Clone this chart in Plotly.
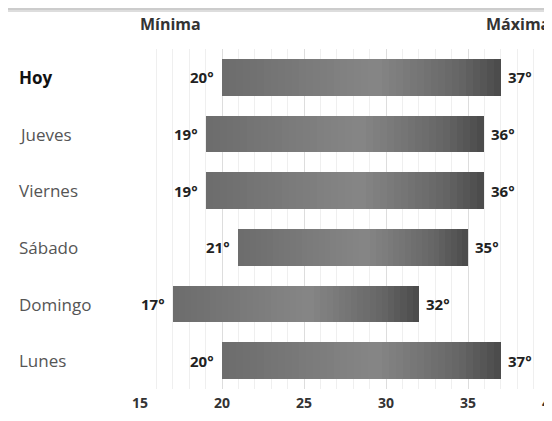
import plotly.graph_objects as go

days = ["Hoy", "Jueves", "Viernes", "Sábado", "Domingo", "Lunes"]
t_min = [20, 19, 19, 21, 17, 20]
t_max = [37, 36, 36, 35, 32, 37]
tick_vals = [15, 20, 25, 30, 35, 40]
header_min = "Mínima"
header_max = "Máxima"

# page body has an 8px margin, so the figure is offset by 8px
OFF = 8
W, H = 552 - OFF, 421 - OFF
ML, MR, MT, MB = 140 - OFF, 2, 49 - OFF, 32
PW = W - ML - MR
PH = H - MT - MB

FONT = "Open Sans"

def fy(page_y):
    """paper y coordinate for a page pixel row"""
    return 1 + (MT - (page_y - OFF)) / PH

def grad_color(t):
    # dark - light - dark gradient across the bar
    stops = [(0.0, 0x6c), (0.55, 0x86), (0.85, 0x66), (1.0, 0x4a)]
    for (a, ca), (b, cb) in zip(stops[:-1], stops[1:]):
        if a <= t <= b:
            f = (t - a) / (b - a) if b > a else 0
            c = int(round(ca + (cb - ca) * f))
            return f"rgb({c},{c},{c})"
    c = stops[-1][1]
    return f"rgb({c},{c},{c})"

N = 40
fig = go.Figure()
for i in range(N):
    bases = [lo + (hi - lo) * i / N for lo, hi in zip(t_min, t_max)]
    widths = [(hi - lo) / N for lo, hi in zip(t_min, t_max)]
    fig.add_trace(go.Bar(
        y=days, x=widths, base=bases, orientation="h",
        marker=dict(color=grad_color((i + 0.5) / N), line=dict(width=0)),
        width=0.65, showlegend=False, hoverinfo="skip",
    ))

annotations = []
for d, lo, hi in zip(days, t_min, t_max):
    annotations.append(dict(x=lo, y=d, xref="x", yref="y", text=f"{lo}°",
                            xanchor="right", yanchor="middle", xshift=-6, showarrow=False,
                            font=dict(family=FONT, size=15, color="#222", weight="bold")))
    annotations.append(dict(x=hi, y=d, xref="x", yref="y", text=f"{hi}°",
                            xanchor="left", yanchor="middle", xshift=5, showarrow=False,
                            font=dict(family=FONT, size=15, color="#222", weight="bold")))
    annotations.append(dict(x=(17 - OFF - ML) / PW, y=d, xref="paper", yref="y", text=d,
                            xanchor="left", yanchor="middle", showarrow=False,
                            font=dict(family=FONT, size=17,
                                      color="#111" if d == "Hoy" else "#555",
                                      weight="bold" if d == "Hoy" else "normal")))

annotations.append(dict(x=tick_vals[0], y=fy(24), xref="x", yref="paper",
                        text=header_min, xanchor="left", yanchor="middle", xshift=-2,
                        showarrow=False,
                        font=dict(family=FONT, size=16, color="#333", weight="bold")))
annotations.append(dict(x=1.0, y=fy(24), xref="paper", yref="paper",
                        text=header_max, xanchor="right", yanchor="middle", xshift=2,
                        showarrow=False,
                        font=dict(family=FONT, size=16, color="#333", weight="bold")))

shapes = [
    dict(type="line", xref="paper", yref="paper", x0=-ML / PW, x1=1 + MR / PW,
         y0=fy(9), y1=fy(9), line=dict(color="#999", width=1)),
    dict(type="line", xref="paper", yref="paper", x0=-ML / PW, x1=1 + MR / PW,
         y0=fy(11), y1=fy(11), line=dict(color="#bbb", width=1)),
]

fig.update_layout(
    width=W, height=H, margin=dict(l=ML, r=MR, t=MT, b=MB, autoexpand=False),
    paper_bgcolor="white", plot_bgcolor="white",
    barmode="overlay", bargap=0,
    annotations=annotations, shapes=shapes,
    xaxis=dict(range=[15, 40], tickvals=tick_vals, showgrid=True,
               gridcolor="#dddddd", gridwidth=1, zeroline=False, showline=False,
               ticks="", ticklabelstandoff=4, automargin=False,
               ticklabeloverflow="allow",
               tickfont=dict(family=FONT, size=14, color="#333", weight="bold"),
               minor=dict(dtick=1, showgrid=True, gridcolor="#efefef", gridwidth=1)),
    yaxis=dict(categoryorder="array", categoryarray=days[::-1], showticklabels=False,
               showgrid=False, zeroline=False, range=[-0.5, 5.5]),
)

fig.write_html("out.html")
